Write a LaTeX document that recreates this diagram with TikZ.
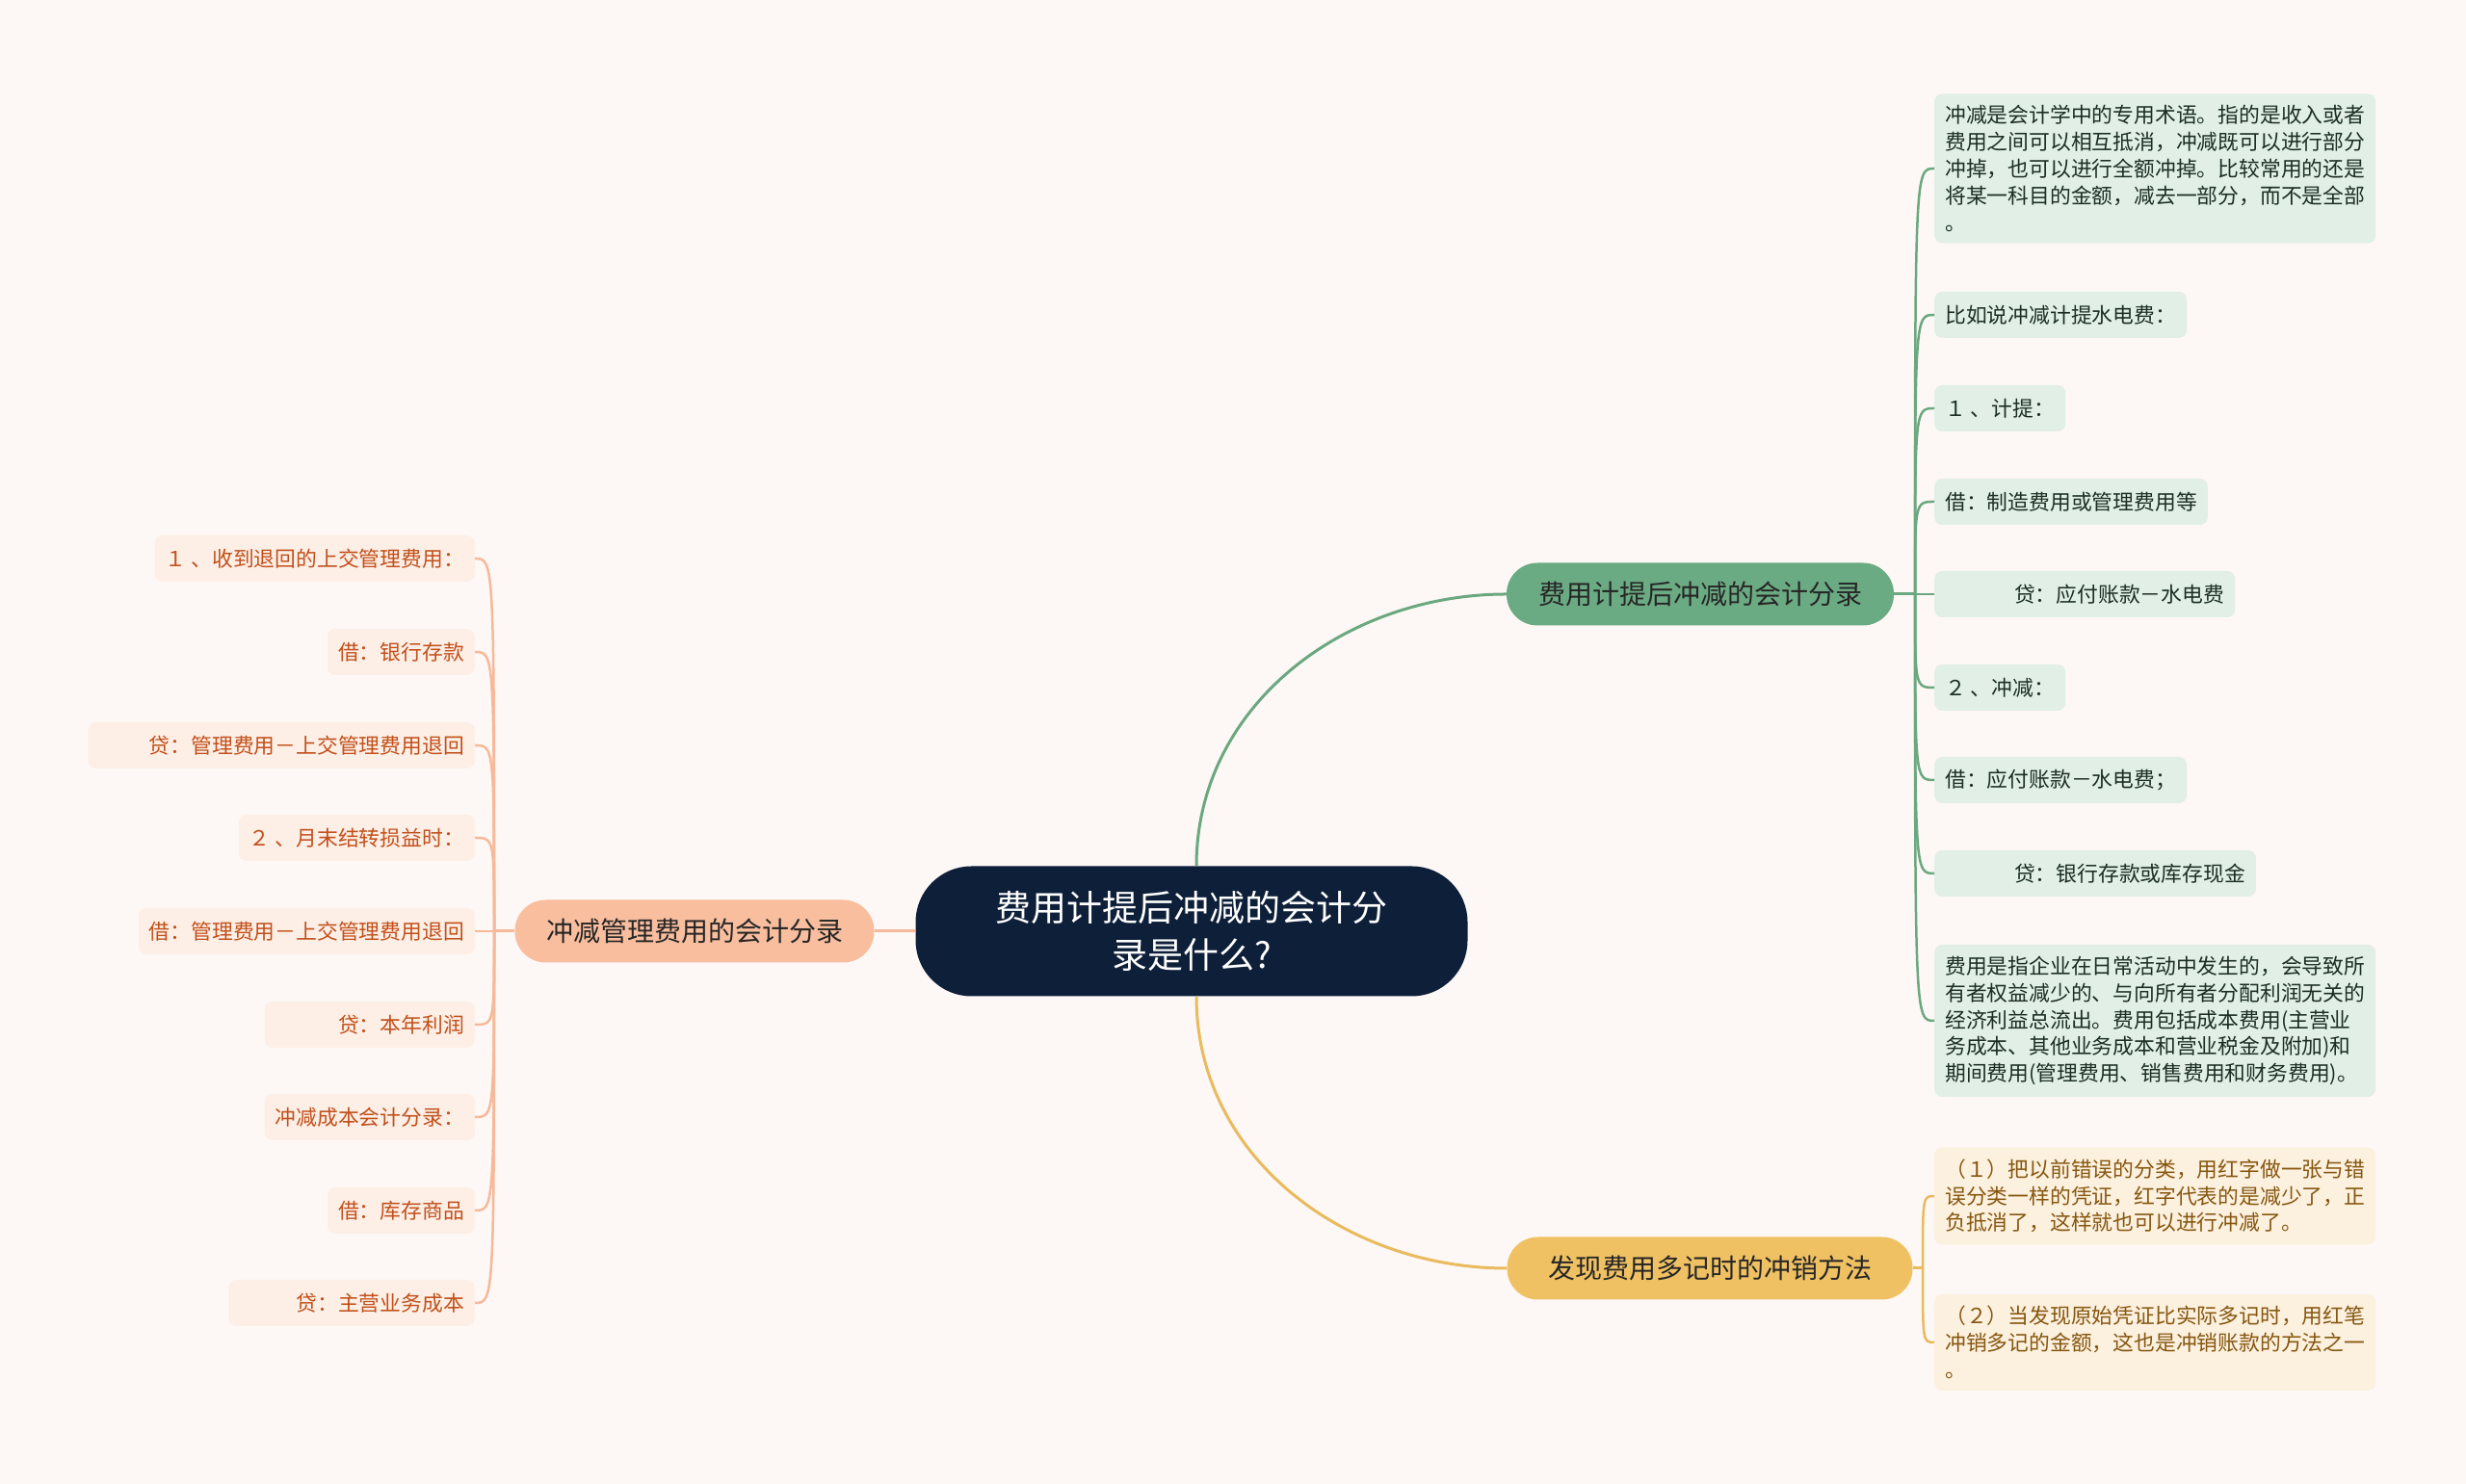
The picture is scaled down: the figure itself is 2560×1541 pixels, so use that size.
\documentclass[tikz,border=0pt]{standalone}
\usepackage{fontspec}
\setmainfont{Noto Sans CJK SC}
\definecolor{bgc}{HTML}{FDF8F5}
\definecolor{rootc}{HTML}{0E1F3A}
\definecolor{gmainc}{HTML}{6BAB83}
\definecolor{gcol}{HTML}{6BA880}
\definecolor{gfill}{HTML}{E1EFE6}
\definecolor{gtext}{HTML}{1C2E22}
\definecolor{ymainc}{HTML}{F0C163}
\definecolor{ycol}{HTML}{E9BA5E}
\definecolor{yfill}{HTML}{FCF0DF}
\definecolor{ytext}{HTML}{86570F}
\definecolor{omainc}{HTML}{F9BE9E}
\definecolor{ocol}{HTML}{F6B999}
\definecolor{ofill}{HTML}{FDEFE6}
\definecolor{otext}{HTML}{C2501B}
\begin{document}
\begin{tikzpicture}[x=1pt,y=1pt,
  rootbox/.style={fill=rootc,text=white,rounded corners=58pt,minimum width=573pt,minimum height=135pt,align=center,font=\fontsize{37}{49}\selectfont},
  branchbox/.style={rounded corners=32pt,minimum height=65pt,text=black!85,font=\fontsize{28}{34}\selectfont},
  leafbox/.style={rounded corners=8pt,inner xsep=11pt,inner ysep=12pt,minimum height=48pt,align=left,font=\fontsize{21.8}{27.8}\selectfont},
  gleaf/.style={leafbox,fill=gfill,text=gtext,anchor=west},
  yleaf/.style={leafbox,fill=yfill,text=ytext,anchor=west},
  oleaf/.style={leafbox,fill=ofill,text=otext,anchor=east},
  gline/.style={draw=gcol,line width=3pt},
  yline/.style={draw=ycol,line width=3pt},
  oline/.style={draw=ocol,line width=3pt},
  gtwig/.style={draw=gcol,line width=2.5pt},
  ytwig/.style={draw=ycol,line width=2.5pt},
  otwig/.style={draw=ocol,line width=2.5pt}]
\fill[bgc] (0,0) rectangle (2560,1541);
\node[rootbox] (root) at (1237,574) {费用计提后冲减的会计分\\录是什么?};
\node[branchbox,fill=gmainc,minimum width=402pt] (gmain) at (1765,924) {费用计提后冲减的会计分录};
\node[branchbox,fill=ymainc,minimum width=421pt] (ymain) at (1775,224) {发现费用多记时的冲销方法};
\node[branchbox,fill=omainc,minimum width=373pt] (omain) at (721,574) {冲减管理费用的会计分录};

\node[gleaf] (g1) at (2008,1366) {冲减是会计学中的专用术语。指的是收入或者\\费用之间可以相互抵消，冲减既可以进行部分\\冲掉，也可以进行全额冲掉。比较常用的还是\\将某一科目的金额，减去一部分，而不是全部\\。};
\node[gleaf] (g2) at (2008,1214) {比如说冲减计提水电费：};
\node[gleaf] (g3) at (2008,1117) {１ 、计提：};
\node[gleaf] (g4) at (2008,1020) {借：制造费用或管理费用等};
\node[gleaf] (g5) at (2008,924) {\hspace*{3.3em}贷：应付账款－水电费};
\node[gleaf] (g6) at (2008,827) {２ 、冲减：};
\node[gleaf] (g7) at (2008,731) {借：应付账款－水电费；};
\node[gleaf] (g8) at (2008,634) {\hspace*{3.3em}贷：银行存款或库存现金};
\node[gleaf] (g9) at (2008,481) {费用是指企业在日常活动中发生的，会导致所\\有者权益减少的、与向所有者分配利润无关的\\经济利益总流出。费用包括成本费用(主营业\\务成本、其他业务成本和营业税金及附加)和\\期间费用(管理费用、销售费用和财务费用)。};

\node[yleaf] (y1) at (2008,299) {（１）把以前错误的分类，用红字做一张与错\\误分类一样的凭证，红字代表的是减少了，正\\负抵消了，这样就也可以进行冲减了。};
\node[yleaf] (y2) at (2008,147) {（２）当发现原始凭证比实际多记时，用红笔\\冲销多记的金额，这也是冲销账款的方法之一\\。};

\node[oleaf] (o1) at (493,961) {１ 、收到退回的上交管理费用：};
\node[oleaf] (o2) at (493,864) {借：银行存款};
\node[oleaf] (o3) at (493,767) {\hspace*{2.4em}贷：管理费用－上交管理费用退回};
\node[oleaf] (o4) at (493,671) {２ 、月末结转损益时：};
\node[oleaf] (o5) at (493,574) {借：管理费用－上交管理费用退回};
\node[oleaf] (o6) at (493,477) {\hspace*{3em}贷：本年利润};
\node[oleaf] (o7) at (493,381) {冲减成本会计分录：};
\node[oleaf] (o8) at (493,284) {借：库存商品};
\node[oleaf] (o9) at (493,188) {\hspace*{2.7em}贷：主营业务成本};

\draw[gline] ([xshift=5pt]root.north) to[out=90,in=180] (gmain.west);
\draw[yline] ([xshift=5pt]root.south) to[out=-90,in=180] (ymain.west);
\draw[oline] (root.west) -- (omain.east);

\coordinate (gj) at (1988,924);
\coordinate (yj) at (1996,224);
\coordinate (oj) at (513,574);
\draw[gline] (gmain.east) -- (gj);
\draw[yline] (ymain.east) -- (yj);
\draw[oline] (omain.west) -- (oj);
\foreach \i in {1,...,9} \draw[gtwig] (gj) .. controls (gj |- g\i.west) .. (g\i.west);
\foreach \i in {1,2} \draw[ytwig] (yj) .. controls (yj |- y\i.west) .. (y\i.west);
\foreach \i in {1,...,9} \draw[otwig] (oj) .. controls (oj |- o\i.east) .. (o\i.east);
\end{tikzpicture}
\end{document}
